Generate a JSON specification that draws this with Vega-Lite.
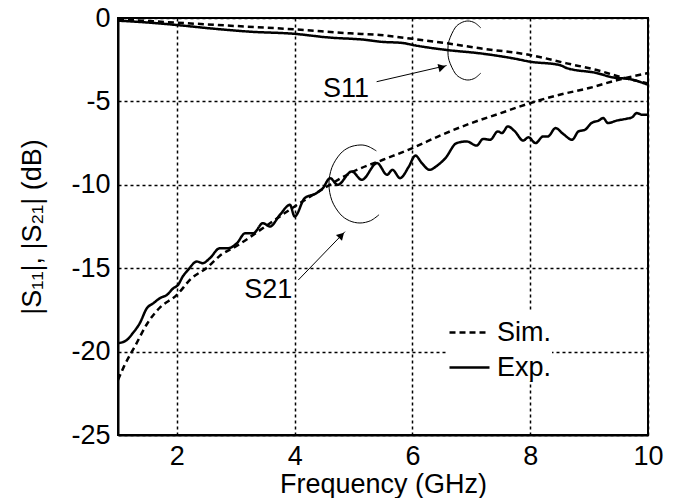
{
  "$schema": "https://vega.github.io/schema/vega-lite/v6.json",
  "width": 530,
  "height": 417,
  "autosize": "none",
  "padding": {"left": 118, "top": 18, "right": 38, "bottom": 63},
  "background": "white",
  "config": {
    "font": "Liberation Sans",
    "view": {"stroke": "black", "strokeWidth": 2},
    "axis": {
      "labelFont": "Liberation Sans", "labelFontSize": 27, "labelColor": "black",
      "titleFont": "Liberation Sans", "titleFontSize": 27, "titleFontWeight": "normal", "titleColor": "black",
      "domainColor": "black", "domainWidth": 2, "ticks": false,
      "grid": true, "gridColor": "black", "gridDash": [3, 3], "gridWidth": 1.5, "gridOpacity": 1,
      "labelFlush": false, "labelOverlap": false, "labelExpr": "'' + datum.value"
    }
  },
  "datasets": {
    "curves": [
      {"curve": "S21 Exp", "type": "Exp.", "f": 1.00, "db": -19.5},
      {"curve": "S21 Exp", "type": "Exp.", "f": 1.15, "db": -19.3},
      {"curve": "S21 Exp", "type": "Exp.", "f": 1.25, "db": -18.9},
      {"curve": "S21 Exp", "type": "Exp.", "f": 1.37, "db": -18.3},
      {"curve": "S21 Exp", "type": "Exp.", "f": 1.49, "db": -17.4},
      {"curve": "S21 Exp", "type": "Exp.", "f": 1.60, "db": -17.1},
      {"curve": "S21 Exp", "type": "Exp.", "f": 1.71, "db": -16.8},
      {"curve": "S21 Exp", "type": "Exp.", "f": 1.83, "db": -16.6},
      {"curve": "S21 Exp", "type": "Exp.", "f": 1.94, "db": -16.2},
      {"curve": "S21 Exp", "type": "Exp.", "f": 2.02, "db": -16.0},
      {"curve": "S21 Exp", "type": "Exp.", "f": 2.10, "db": -15.5},
      {"curve": "S21 Exp", "type": "Exp.", "f": 2.19, "db": -15.1},
      {"curve": "S21 Exp", "type": "Exp.", "f": 2.34, "db": -14.6},
      {"curve": "S21 Exp", "type": "Exp.", "f": 2.44, "db": -14.7},
      {"curve": "S21 Exp", "type": "Exp.", "f": 2.56, "db": -14.4},
      {"curve": "S21 Exp", "type": "Exp.", "f": 2.73, "db": -13.8},
      {"curve": "S21 Exp", "type": "Exp.", "f": 2.87, "db": -13.8},
      {"curve": "S21 Exp", "type": "Exp.", "f": 3.02, "db": -13.5},
      {"curve": "S21 Exp", "type": "Exp.", "f": 3.16, "db": -12.9},
      {"curve": "S21 Exp", "type": "Exp.", "f": 3.30, "db": -12.9},
      {"curve": "S21 Exp", "type": "Exp.", "f": 3.46, "db": -12.3},
      {"curve": "S21 Exp", "type": "Exp.", "f": 3.58, "db": -12.5},
      {"curve": "S21 Exp", "type": "Exp.", "f": 3.75, "db": -11.8},
      {"curve": "S21 Exp", "type": "Exp.", "f": 3.92, "db": -11.2},
      {"curve": "S21 Exp", "type": "Exp.", "f": 4.00, "db": -11.9},
      {"curve": "S21 Exp", "type": "Exp.", "f": 4.17, "db": -10.8},
      {"curve": "S21 Exp", "type": "Exp.", "f": 4.37, "db": -10.5},
      {"curve": "S21 Exp", "type": "Exp.", "f": 4.48, "db": -10.2},
      {"curve": "S21 Exp", "type": "Exp.", "f": 4.60, "db": -9.6},
      {"curve": "S21 Exp", "type": "Exp.", "f": 4.73, "db": -10.0},
      {"curve": "S21 Exp", "type": "Exp.", "f": 4.97, "db": -9.2},
      {"curve": "S21 Exp", "type": "Exp.", "f": 5.14, "db": -9.7},
      {"curve": "S21 Exp", "type": "Exp.", "f": 5.40, "db": -8.7},
      {"curve": "S21 Exp", "type": "Exp.", "f": 5.57, "db": -9.4},
      {"curve": "S21 Exp", "type": "Exp.", "f": 5.66, "db": -9.1},
      {"curve": "S21 Exp", "type": "Exp.", "f": 5.79, "db": -9.6},
      {"curve": "S21 Exp", "type": "Exp.", "f": 5.94, "db": -8.9},
      {"curve": "S21 Exp", "type": "Exp.", "f": 6.05, "db": -8.25},
      {"curve": "S21 Exp", "type": "Exp.", "f": 6.16, "db": -8.7},
      {"curve": "S21 Exp", "type": "Exp.", "f": 6.29, "db": -9.1},
      {"curve": "S21 Exp", "type": "Exp.", "f": 6.42, "db": -8.85},
      {"curve": "S21 Exp", "type": "Exp.", "f": 6.56, "db": -8.4},
      {"curve": "S21 Exp", "type": "Exp.", "f": 6.75, "db": -7.5},
      {"curve": "S21 Exp", "type": "Exp.", "f": 6.92, "db": -7.4},
      {"curve": "S21 Exp", "type": "Exp.", "f": 7.09, "db": -7.65},
      {"curve": "S21 Exp", "type": "Exp.", "f": 7.20, "db": -7.25},
      {"curve": "S21 Exp", "type": "Exp.", "f": 7.32, "db": -7.3},
      {"curve": "S21 Exp", "type": "Exp.", "f": 7.45, "db": -6.8},
      {"curve": "S21 Exp", "type": "Exp.", "f": 7.52, "db": -6.9},
      {"curve": "S21 Exp", "type": "Exp.", "f": 7.62, "db": -6.5},
      {"curve": "S21 Exp", "type": "Exp.", "f": 7.74, "db": -6.8},
      {"curve": "S21 Exp", "type": "Exp.", "f": 7.88, "db": -7.35},
      {"curve": "S21 Exp", "type": "Exp.", "f": 7.97, "db": -7.15},
      {"curve": "S21 Exp", "type": "Exp.", "f": 8.09, "db": -7.5},
      {"curve": "S21 Exp", "type": "Exp.", "f": 8.22, "db": -7.1},
      {"curve": "S21 Exp", "type": "Exp.", "f": 8.30, "db": -7.1},
      {"curve": "S21 Exp", "type": "Exp.", "f": 8.43, "db": -6.6},
      {"curve": "S21 Exp", "type": "Exp.", "f": 8.56, "db": -6.95},
      {"curve": "S21 Exp", "type": "Exp.", "f": 8.71, "db": -7.3},
      {"curve": "S21 Exp", "type": "Exp.", "f": 8.82, "db": -6.8},
      {"curve": "S21 Exp", "type": "Exp.", "f": 8.93, "db": -6.7},
      {"curve": "S21 Exp", "type": "Exp.", "f": 9.04, "db": -6.3},
      {"curve": "S21 Exp", "type": "Exp.", "f": 9.16, "db": -6.15},
      {"curve": "S21 Exp", "type": "Exp.", "f": 9.24, "db": -6.0},
      {"curve": "S21 Exp", "type": "Exp.", "f": 9.32, "db": -6.3},
      {"curve": "S21 Exp", "type": "Exp.", "f": 9.47, "db": -6.15},
      {"curve": "S21 Exp", "type": "Exp.", "f": 9.62, "db": -6.05},
      {"curve": "S21 Exp", "type": "Exp.", "f": 9.73, "db": -5.95},
      {"curve": "S21 Exp", "type": "Exp.", "f": 9.81, "db": -5.7},
      {"curve": "S21 Exp", "type": "Exp.", "f": 9.90, "db": -5.8},
      {"curve": "S21 Exp", "type": "Exp.", "f": 10.00, "db": -5.8},

      {"curve": "S11 Exp", "type": "Exp.", "f": 1.00, "db": -0.16},
      {"curve": "S11 Exp", "type": "Exp.", "f": 1.54, "db": -0.28},
      {"curve": "S11 Exp", "type": "Exp.", "f": 2.00, "db": -0.42},
      {"curve": "S11 Exp", "type": "Exp.", "f": 2.56, "db": -0.62},
      {"curve": "S11 Exp", "type": "Exp.", "f": 3.24, "db": -0.82},
      {"curve": "S11 Exp", "type": "Exp.", "f": 4.00, "db": -0.95},
      {"curve": "S11 Exp", "type": "Exp.", "f": 4.55, "db": -1.16},
      {"curve": "S11 Exp", "type": "Exp.", "f": 5.23, "db": -1.32},
      {"curve": "S11 Exp", "type": "Exp.", "f": 5.45, "db": -1.42},
      {"curve": "S11 Exp", "type": "Exp.", "f": 5.84, "db": -1.50},
      {"curve": "S11 Exp", "type": "Exp.", "f": 6.01, "db": -1.62},
      {"curve": "S11 Exp", "type": "Exp.", "f": 6.59, "db": -1.92},
      {"curve": "S11 Exp", "type": "Exp.", "f": 7.15, "db": -2.12},
      {"curve": "S11 Exp", "type": "Exp.", "f": 7.71, "db": -2.42},
      {"curve": "S11 Exp", "type": "Exp.", "f": 8.00, "db": -2.62},
      {"curve": "S11 Exp", "type": "Exp.", "f": 8.50, "db": -2.82},
      {"curve": "S11 Exp", "type": "Exp.", "f": 8.62, "db": -3.00},
      {"curve": "S11 Exp", "type": "Exp.", "f": 9.13, "db": -3.30},
      {"curve": "S11 Exp", "type": "Exp.", "f": 9.40, "db": -3.56},
      {"curve": "S11 Exp", "type": "Exp.", "f": 9.70, "db": -3.67},
      {"curve": "S11 Exp", "type": "Exp.", "f": 10.00, "db": -4.00},

      {"curve": "S11 Sim", "type": "Sim.", "f": 1.00, "db": -0.08},
      {"curve": "S11 Sim", "type": "Sim.", "f": 2.00, "db": -0.28},
      {"curve": "S11 Sim", "type": "Sim.", "f": 3.00, "db": -0.48},
      {"curve": "S11 Sim", "type": "Sim.", "f": 4.00, "db": -0.68},
      {"curve": "S11 Sim", "type": "Sim.", "f": 4.94, "db": -0.92},
      {"curve": "S11 Sim", "type": "Sim.", "f": 5.45, "db": -1.02},
      {"curve": "S11 Sim", "type": "Sim.", "f": 6.00, "db": -1.25},
      {"curve": "S11 Sim", "type": "Sim.", "f": 6.59, "db": -1.52},
      {"curve": "S11 Sim", "type": "Sim.", "f": 7.15, "db": -1.82},
      {"curve": "S11 Sim", "type": "Sim.", "f": 8.00, "db": -2.22},
      {"curve": "S11 Sim", "type": "Sim.", "f": 8.62, "db": -2.72},
      {"curve": "S11 Sim", "type": "Sim.", "f": 9.13, "db": -3.12},
      {"curve": "S11 Sim", "type": "Sim.", "f": 9.52, "db": -3.52},
      {"curve": "S11 Sim", "type": "Sim.", "f": 10.00, "db": -3.92},

      {"curve": "S21 Sim", "type": "Sim.", "f": 1.00, "db": -21.7},
      {"curve": "S21 Sim", "type": "Sim.", "f": 1.10, "db": -20.9},
      {"curve": "S21 Sim", "type": "Sim.", "f": 1.30, "db": -19.6},
      {"curve": "S21 Sim", "type": "Sim.", "f": 1.50, "db": -18.3},
      {"curve": "S21 Sim", "type": "Sim.", "f": 1.70, "db": -17.4},
      {"curve": "S21 Sim", "type": "Sim.", "f": 2.00, "db": -16.6},
      {"curve": "S21 Sim", "type": "Sim.", "f": 2.25, "db": -15.6},
      {"curve": "S21 Sim", "type": "Sim.", "f": 2.50, "db": -15.0},
      {"curve": "S21 Sim", "type": "Sim.", "f": 2.75, "db": -14.2},
      {"curve": "S21 Sim", "type": "Sim.", "f": 3.00, "db": -13.7},
      {"curve": "S21 Sim", "type": "Sim.", "f": 3.50, "db": -12.5},
      {"curve": "S21 Sim", "type": "Sim.", "f": 4.00, "db": -11.3},
      {"curve": "S21 Sim", "type": "Sim.", "f": 4.50, "db": -10.2},
      {"curve": "S21 Sim", "type": "Sim.", "f": 5.00, "db": -9.2},
      {"curve": "S21 Sim", "type": "Sim.", "f": 5.50, "db": -8.5},
      {"curve": "S21 Sim", "type": "Sim.", "f": 6.00, "db": -7.8},
      {"curve": "S21 Sim", "type": "Sim.", "f": 6.50, "db": -7.0},
      {"curve": "S21 Sim", "type": "Sim.", "f": 7.00, "db": -6.3},
      {"curve": "S21 Sim", "type": "Sim.", "f": 7.50, "db": -5.7},
      {"curve": "S21 Sim", "type": "Sim.", "f": 8.00, "db": -5.1},
      {"curve": "S21 Sim", "type": "Sim.", "f": 8.50, "db": -4.6},
      {"curve": "S21 Sim", "type": "Sim.", "f": 9.00, "db": -4.2},
      {"curve": "S21 Sim", "type": "Sim.", "f": 9.50, "db": -3.7},
      {"curve": "S21 Sim", "type": "Sim.", "f": 10.00, "db": -3.3}
    ],
    "arcs": [
      {"arc": "S11", "i": 1, "f": 7.161, "db": -0.594},
      {"arc": "S11", "i": 2, "f": 7.058, "db": -0.288},
      {"arc": "S11", "i": 3, "f": 6.942, "db": -0.180},
      {"arc": "S11", "i": 4, "f": 6.827, "db": -0.288},
      {"arc": "S11", "i": 5, "f": 6.723, "db": -0.594},
      {"arc": "S11", "i": 6, "f": 6.623, "db": -1.343},
      {"arc": "S11", "i": 7, "f": 6.603, "db": -1.948},
      {"arc": "S11", "i": 8, "f": 6.623, "db": -2.554},
      {"arc": "S11", "i": 9, "f": 6.723, "db": -3.303},
      {"arc": "S11", "i": 10, "f": 6.827, "db": -3.609},
      {"arc": "S11", "i": 11, "f": 6.942, "db": -3.717},
      {"arc": "S11", "i": 12, "f": 7.058, "db": -3.609},
      {"arc": "S11", "i": 13, "f": 7.161, "db": -3.303},
      {"arc": "S21", "i": 1, "f": 5.387, "db": -7.968},
      {"arc": "S21", "i": 2, "f": 5.244, "db": -7.692},
      {"arc": "S21", "i": 3, "f": 5.109, "db": -7.614},
      {"arc": "S21", "i": 4, "f": 4.929, "db": -7.752},
      {"arc": "S21", "i": 5, "f": 4.771, "db": -8.159},
      {"arc": "S21", "i": 6, "f": 4.632, "db": -8.963},
      {"arc": "S21", "i": 7, "f": 4.582, "db": -9.952},
      {"arc": "S21", "i": 8, "f": 4.632, "db": -10.941},
      {"arc": "S21", "i": 9, "f": 4.771, "db": -11.745},
      {"arc": "S21", "i": 10, "f": 4.929, "db": -12.152},
      {"arc": "S21", "i": 11, "f": 5.109, "db": -12.290},
      {"arc": "S21", "i": 12, "f": 5.289, "db": -12.152},
      {"arc": "S21", "i": 13, "f": 5.433, "db": -11.793}
    ],
    "arrows": [
      {"label": "S11", "f": 5.392, "db": -3.82, "f2": 6.58, "db2": -2.85, "hf": 6.503, "hdb": -2.95, "angle": 76},
      {"label": "S21", "f": 4.061, "db": -15.71, "f2": 4.854, "db2": -12.81, "hf": 4.795, "hdb": -13.03, "angle": 44}
    ],
    "labels": [
      {"label": "S11", "f": 4.871, "db": -4.26},
      {"label": "S21", "f": 3.552, "db": -16.31}
    ]
  },
  "layer": [
    {
      "data": {"name": "curves"},
      "mark": {"type": "line", "color": "black", "strokeWidth": 2.5, "interpolate": "monotone"},
      "encoding": {
        "x": {"field": "f", "type": "quantitative", "title": "Frequency (GHz)",
              "scale": {"domain": [1, 10], "nice": false, "zero": false},
              "axis": {"values": [2, 4, 6, 8, 10], "title": "Frequency (GHz)", "labelPadding": 8, "titlePadding": 2}},
        "y": {"field": "db", "type": "quantitative", "title": "|S₁₁|, |S₂₁| (dB)",
              "scale": {"domain": [-25, 0], "nice": false, "zero": false},
              "axis": {"values": [-25, -20, -15, -10, -5, 0], "title": "|S₁₁|, |S₂₁| (dB)", "labelPadding": 8, "titlePadding": 24}},
        "detail": {"field": "curve"},
        "strokeDash": {"field": "type", "type": "nominal",
              "scale": {"domain": ["Sim.", "Exp."], "range": [[6, 4], [1, 0]]},
              "legend": {"title": null, "orient": "none", "legendX": 330, "legendY": 293,
                         "symbolType": "stroke", "symbolSize": 1600, "symbolStrokeWidth": 2.5,
                         "symbolStrokeColor": "black", "labelFontSize": 27, "labelFont": "Liberation Sans",
                         "labelColor": "black", "labelOffset": 6, "fillColor": "white", "padding": 0, "rowPadding": -6}}
      }
    },
    {
      "data": {"name": "arcs"},
      "mark": {"type": "line", "color": "black", "strokeWidth": 1, "interpolate": "cardinal"},
      "encoding": {
        "x": {"field": "f", "type": "quantitative", "title": "Frequency (GHz)"},
        "y": {"field": "db", "type": "quantitative", "title": "|S₁₁|, |S₂₁| (dB)"},
        "detail": {"field": "arc"},
        "order": {"field": "i", "type": "quantitative"}
      }
    },
    {
      "data": {"name": "arrows"},
      "mark": {"type": "rule", "color": "black", "strokeWidth": 1},
      "encoding": {
        "x": {"field": "f", "type": "quantitative", "title": "Frequency (GHz)"},
        "y": {"field": "db", "type": "quantitative", "title": "|S₁₁|, |S₂₁| (dB)"},
        "x2": {"field": "f2"},
        "y2": {"field": "db2"}
      }
    },
    {
      "data": {"name": "arrows"},
      "mark": {"type": "point", "shape": "triangle-up", "filled": true, "color": "black", "opacity": 1, "size": 70},
      "encoding": {
        "x": {"field": "hf", "type": "quantitative", "title": "Frequency (GHz)"},
        "y": {"field": "hdb", "type": "quantitative", "title": "|S₁₁|, |S₂₁| (dB)"},
        "angle": {"field": "angle", "type": "quantitative", "scale": null}
      }
    },
    {
      "data": {"name": "labels"},
      "mark": {"type": "text", "font": "Liberation Sans", "fontSize": 27, "color": "black", "align": "center", "baseline": "middle"},
      "encoding": {
        "x": {"field": "f", "type": "quantitative", "title": "Frequency (GHz)"},
        "y": {"field": "db", "type": "quantitative", "title": "|S₁₁|, |S₂₁| (dB)"},
        "text": {"field": "label"}
      }
    }
  ]
}
